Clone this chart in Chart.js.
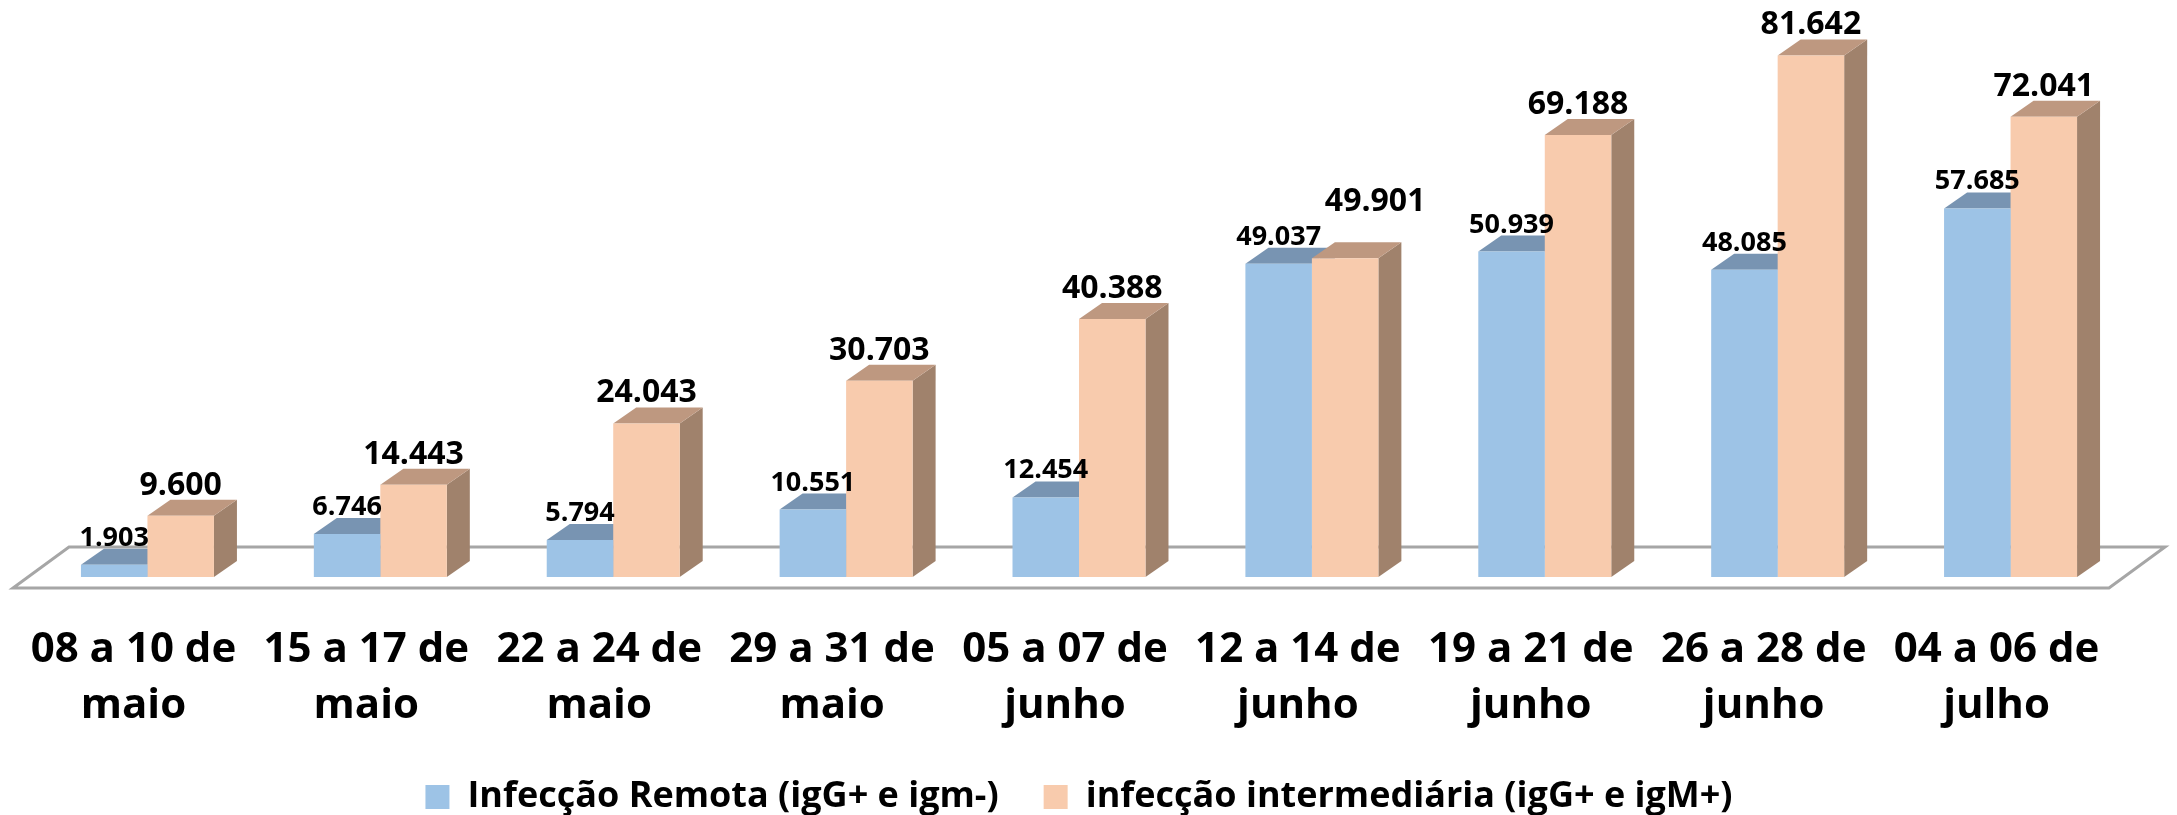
<!DOCTYPE html>
<html>
<head>
<meta charset="utf-8">
<script src="https://cdn.jsdelivr.net/npm/chart.js@4/dist/chart.umd.min.js"></script>
<style>
  html, body { margin: 0; padding: 0; background: #fff; }
  canvas { display: block; }
</style>
</head>
<body>
<canvas id="chart" width="2177" height="815"></canvas>
<script>
// data
const categories = [
  ['08 a 10 de', 'maio'],
  ['15 a 17 de', 'maio'],
  ['22 a 24 de', 'maio'],
  ['29 a 31 de', 'maio'],
  ['05 a 07 de', 'junho'],
  ['12 a 14 de', 'junho'],
  ['19 a 21 de', 'junho'],
  ['26 a 28 de', 'junho'],
  ['04 a 06 de', 'julho']
];
const remota = [1903, 6746, 5794, 10551, 12454, 49037, 50939, 48085, 57685];
const intermediaria = [9600, 14443, 24043, 30703, 40388, 49901, 69188, 81642, 72041];
const seriesNames = ['Infecção Remota (igG+ e igm-)', 'infecção intermediária (igG+ e igM+)'];

// 3d look: depth of each bar on screen
const DX = 23, DY = -16;

function fmt(v) {
  return String(v).replace(/\B(?=(\d{3})+(?!\d))/g, '.');
}

const box3d = {
  id: 'box3d',
  beforeDatasetsDraw(chart) {
    const ctx = chart.ctx;
    const area = chart.chartArea;
    const base = chart.scales.y.getPixelForValue(0);

    // the floor
    ctx.save();
    ctx.beginPath();
    ctx.moveTo(area.left - 18, base + 11);
    ctx.lineTo(area.right - 18, base + 11);
    ctx.lineTo(area.right + 38, base - 30);
    ctx.lineTo(area.left + 38, base - 30);
    ctx.closePath();
    ctx.fillStyle = '#ffffff';
    ctx.fill();
    ctx.lineWidth = 3;
    ctx.strokeStyle = '#a6a6a6';
    ctx.stroke();

    // side and top faces, the front is drawn by Chart.js afterwards
    for (let i = 0; i < categories.length; i++) {
      chart.data.datasets.forEach((ds, d) => {
        const bar = chart.getDatasetMeta(d).data[i];
        const l = bar.x - bar.width / 2;
        const r = bar.x + bar.width / 2;
        const top = bar.y;
        const bottom = bar.base;

        ctx.beginPath();
        ctx.moveTo(r, top);
        ctx.lineTo(r + DX, top + DY);
        ctx.lineTo(r + DX, bottom + DY);
        ctx.lineTo(r, bottom);
        ctx.closePath();
        ctx.fillStyle = ds.sideColor;
        ctx.fill();

        ctx.beginPath();
        ctx.moveTo(l, top);
        ctx.lineTo(r, top);
        ctx.lineTo(r + DX, top + DY);
        ctx.lineTo(l + DX, top + DY);
        ctx.closePath();
        ctx.fillStyle = ds.topColor;
        ctx.fill();
      });
    }
    ctx.restore();
  },
  afterDatasetsDraw(chart) {
    const ctx = chart.ctx;
    ctx.save();
    ctx.fillStyle = '#000';
    ctx.textAlign = 'center';
    ctx.textBaseline = 'alphabetic';
    chart.data.datasets.forEach((ds, d) => {
      ctx.font = 'bold ' + ds.labelSize + 'px "Open Sans"';
      chart.getDatasetMeta(d).data.forEach((bar, i) => {
        // one label was dragged aside in the original so it does not hit its neighbour
        const nudge = (ds.labelNudge && ds.labelNudge[i]) || [0, 0];
        ctx.fillText(fmt(ds.data[i]), bar.x + nudge[0], bar.y + DY - ds.labelGap + nudge[1]);
      });
    });
    ctx.restore();
  }
};

Chart.defaults.font.family = '"Open Sans", sans-serif';

const ctx = document.getElementById('chart').getContext('2d');
new Chart(ctx, {
  type: 'bar',
  data: {
    labels: categories,
    datasets: [
      {
        label: seriesNames[0],
        data: remota,
        backgroundColor: '#9dc3e6',
        topColor: '#7894b2',
        sideColor: '#7590ae',
        labelSize: 27,
        labelGap: 3
      },
      {
        label: seriesNames[1],
        data: intermediaria,
        backgroundColor: '#f8cbad',
        topColor: '#be9880',
        sideColor: '#a0826c',
        labelSize: 32,
        labelGap: 5,
        labelNudge: { 5: [30, -26] }
      }
    ]
  },
  options: {
    responsive: false,
    animation: false,
    events: [],
    layout: { padding: { top: 2, left: 31, right: 50, bottom: -10 } },
    datasets: { bar: { categoryPercentage: 0.571, barPercentage: 1, borderWidth: 0 } },
    plugins: {
      legend: {
        position: 'bottom',
        labels: {
          boxWidth: 24,
          boxHeight: 24,
          padding: 45,
          color: '#000',
          font: { size: 36, weight: 'bold' }
        }
      },
      tooltip: { enabled: false }
    },
    scales: {
      x: {
        grid: { display: false, drawTicks: false },
        border: { display: false },
        ticks: {
          color: '#000',
          padding: 45,
          labelOffset: -14,
          maxRotation: 0,
          autoSkip: false,
          font: { size: 42, weight: 'bold', lineHeight: 1.33 }
        },
        afterFit(scale) {
          scale.height = 157;
          scale.paddingLeft = 0;
          scale.paddingRight = 0;
        }
      },
      y: { display: false, min: 0, max: 90000 }
    }
  },
  plugins: [box3d]
});
</script>
</body>
</html>
